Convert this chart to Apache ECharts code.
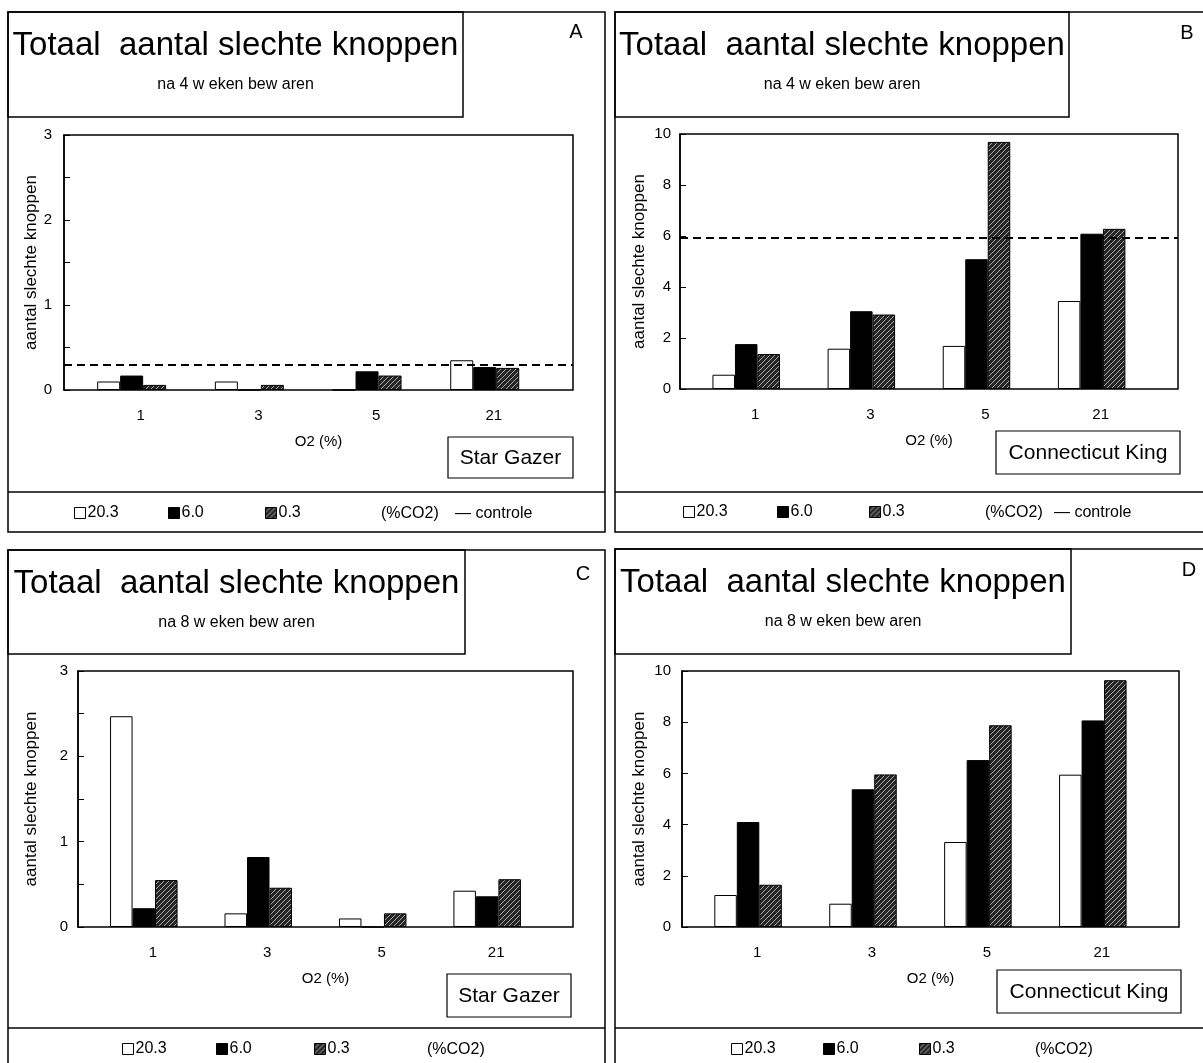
<!DOCTYPE html>
<html>
<head>
<meta charset="utf-8">
<script src="https://cdn.jsdelivr.net/npm/echarts@6/dist/echarts.min.js"></script>
<style>
html, body { margin: 0; padding: 0; background: #fff; }
#main { width: 1203px; height: 1063px; }
</style>
</head>
<body>
<div id="main"></div>
<script>
// categorieen en reeksen
var o2 = ['1', '3', '5', '21'];
var co2 = ['20.3', '6.0', '0.3'];

// A: Star Gazer, na 4 weken
var a203 = [0.1, 0.1, 0, 0.35];
var a60 = [0.17, 0, 0.22, 0.27];
var a03 = [0.06, 0.06, 0.17, 0.26];
var aControle = 0.305;

// B: Connecticut King, na 4 weken
var b203 = [0.56, 1.58, 1.69, 3.45];
var b60 = [1.76, 3.05, 5.09, 6.09];
var b03 = [1.37, 2.92, 9.69, 6.28];
var bControle = 5.95;

// C: Star Gazer, na 8 weken
var c203 = [2.47, 0.16, 0.1, 0.425];
var c60 = [0.22, 0.82, 0, 0.36];
var c03 = [0.55, 0.46, 0.16, 0.56];

// D: Connecticut King, na 8 weken
var d203 = [1.25, 0.91, 3.32, 5.95];
var d60 = [4.1, 5.38, 6.52, 8.07];
var d03 = [1.65, 5.96, 7.88, 9.64];

var panels = [
  { letter: 'A', weeks: '4', cultivar: 'Star Gazer', yMax: 3, yStep: 0.5, values: [a203, a60, a03], controle: aControle },
  { letter: 'B', weeks: '4', cultivar: 'Connecticut King', yMax: 10, yStep: 2, values: [b203, b60, b03], controle: bControle },
  { letter: 'C', weeks: '8', cultivar: 'Star Gazer', yMax: 3, yStep: 0.5, values: [c203, c60, c03], controle: null },
  { letter: 'D', weeks: '8', cultivar: 'Connecticut King', yMax: 10, yStep: 2, values: [d203, d60, d03], controle: null }
];

// plaatsing van de vier panelen (pixels)
var layout = [
  { outer: [8, 12, 605, 532], tbox: [8, 12, 463, 117], grid: [64, 135, 573, 390], sep: 492, letter: [576, 32],
    vbox: [448, 437, 573, 478], legY: 514, legX: [74, 168, 265], co2X: 381, ctrlX: 455, nameGap: 24, labMargin: 12, barW: 23 },
  { outer: [615, 12, 1215, 532], tbox: [615, 12, 1069, 117], grid: [680, 134, 1178, 389], sep: 492, letter: [1187, 33],
    vbox: [996, 431, 1180, 474], legY: 513, legX: [683, 777, 869], co2X: 985, ctrlX: 1054, nameGap: 32, labMargin: 9, barW: 22.5 },
  { outer: [8, 550, 605, 1075], tbox: [8, 550, 465, 654], grid: [78, 671, 573, 927], sep: 1028, letter: [583, 574],
    vbox: [447, 974, 571, 1017], legY: 1050, legX: [122, 216, 314], co2X: 427, ctrlX: null, nameGap: 38, labMargin: 10, barW: 22.5 },
  { outer: [615, 549, 1215, 1075], tbox: [615, 549, 1071, 654], grid: [682, 671, 1179, 927], sep: 1028, letter: [1189, 570],
    vbox: [997, 970, 1181, 1013], legY: 1050, legX: [731, 823, 919], co2X: 1035, ctrlX: null, nameGap: 34, labMargin: 11, barW: 22.5 }
];

var FONT = '"Liberation Sans", Arial, Helvetica, sans-serif';

function hatch() {
  var c = document.createElement('canvas');
  c.width = 5; c.height = 5;
  var g = c.getContext('2d');
  g.fillStyle = '#262626';
  g.fillRect(0, 0, 5, 5);
  g.strokeStyle = '#a8a8a8';
  g.lineWidth = 1;
  g.beginPath();
  g.moveTo(0, 5); g.lineTo(5, 0);
  g.moveTo(-1, 1); g.lineTo(1, -1);
  g.moveTo(4, 6); g.lineTo(6, 4);
  g.stroke();
  return c;
}

var colors = ['#ffffff', '#000000', { image: hatch(), repeat: 'repeat' }];

var chart = echarts.init(document.getElementById('main'), null, { renderer: 'canvas' });

var grids = [], xAxes = [], yAxes = [], series = [], legends = [], graphics = [];

function rect(b, lw) {
  return { type: 'rect', shape: { x: b[0], y: b[1], width: b[2] - b[0], height: b[3] - b[1] },
    style: { fill: null, stroke: '#000', lineWidth: lw || 1.5 }, silent: true, z: 10 };
}
function text(x, y, str, size, align) {
  return { type: 'text', x: x, y: y, silent: true, z: 11,
    style: { text: str, fill: '#000', fontSize: size, fontFamily: FONT, align: align || 'center', verticalAlign: 'middle' } };
}

panels.forEach(function (p, i) {
  var L = layout[i];
  var g = L.grid;
  grids.push({ left: g[0], top: g[1], width: g[2] - g[0], height: g[3] - g[1], show: true,
    borderColor: '#000', borderWidth: 1.5, backgroundColor: 'transparent', outerBoundsMode: 'none' });

  xAxes.push({
    gridIndex: i, type: 'value', min: -0.575, max: 3.75,
    axisLine: { show: false, onZero: false }, axisTick: { show: false }, splitLine: { show: false },
    axisLabel: { customValues: [0, 1, 2, 3], formatter: function (v) { return o2[Math.round(v)]; },
      fontSize: 15, color: '#000', fontFamily: FONT, margin: 18, padding: [0, 0, 0, 18] },
    name: 'O2 (%)', nameLocation: 'middle', nameGap: 44,
    nameTextStyle: { fontSize: 15, color: '#000', fontFamily: FONT }
  });

  yAxes.push({
    gridIndex: i, type: 'value', min: 0, max: p.yMax, interval: p.yStep,
    axisLine: { show: true, onZero: false, lineStyle: { color: '#000', width: 1.5 } },
    axisTick: { show: true, inside: true, length: 6, lineStyle: { color: '#000' } },
    splitLine: { show: false },
    axisLabel: { fontSize: 15, color: '#000', fontFamily: FONT, margin: L.labMargin,
      formatter: function (v) { return v % 1 === 0 ? String(v) : ''; } },
    name: 'aantal slechte knoppen', nameLocation: 'middle', nameGap: L.nameGap,
    nameTextStyle: { fontSize: 17, color: '#000', fontFamily: FONT }
  });

  p.values.forEach(function (vals, k) {
    var s = {
      type: 'bar', name: co2[k], xAxisIndex: i, yAxisIndex: i,
      data: vals.map(function (v, j) { return [j, v]; }),
      barWidth: L.barW, barGap: '0%',
      itemStyle: { color: colors[k], borderColor: '#000', borderWidth: 1 },
      animation: false
    };
    if (k === 0 && p.controle !== null) {
      s.markLine = { silent: true, symbol: 'none', label: { show: false },
        lineStyle: { type: [8, 5], color: '#000', width: 2 },
        data: [{ yAxis: p.controle }], animation: false };
    }
    series.push(s);
    legends.push({ left: L.legX[k], top: L.legY - 9, padding: 0, itemWidth: 11, itemHeight: 11, itemGap: 0,
      icon: 'rect', data: [co2[k]], selectedMode: false,
      itemStyle: { borderColor: '#000', borderWidth: 1 },
      textStyle: { fontSize: 16, color: '#000', fontFamily: FONT, padding: [0, 0, 0, -3] } });
  });

  // kaders
  graphics.push(rect(L.outer));
  graphics.push(rect(L.tbox));
  graphics.push({ type: 'line', shape: { x1: L.outer[0], y1: L.sep, x2: L.outer[2], y2: L.sep },
    style: { stroke: '#000', lineWidth: 1.5 }, silent: true, z: 10 });
  graphics.push(rect(L.vbox, 1.2));

  var cx = (L.tbox[0] + L.tbox[2]) / 2;
  graphics.push(text(cx, L.tbox[1] + 34, 'Totaal  aantal slechte knoppen', 33));
  graphics.push(text(cx, L.tbox[1] + 73, 'na ' + p.weeks + ' w eken bew aren', 16));
  graphics.push(text(L.letter[0], L.letter[1], p.letter, 20));
  graphics.push(text((L.vbox[0] + L.vbox[2]) / 2, (L.vbox[1] + L.vbox[3]) / 2 + 1, p.cultivar, 21));
  graphics.push(text(L.co2X, L.legY, '(%CO2)', 16, 'left'));
  if (L.ctrlX !== null) graphics.push(text(L.ctrlX, L.legY, '\u2014 controle', 16, 'left'));
});

chart.setOption({
  animation: false,
  textStyle: { fontFamily: FONT },
  grid: grids,
  xAxis: xAxes,
  yAxis: yAxes,
  legend: legends,
  series: series,
  graphic: graphics
});
</script>
</body>
</html>
